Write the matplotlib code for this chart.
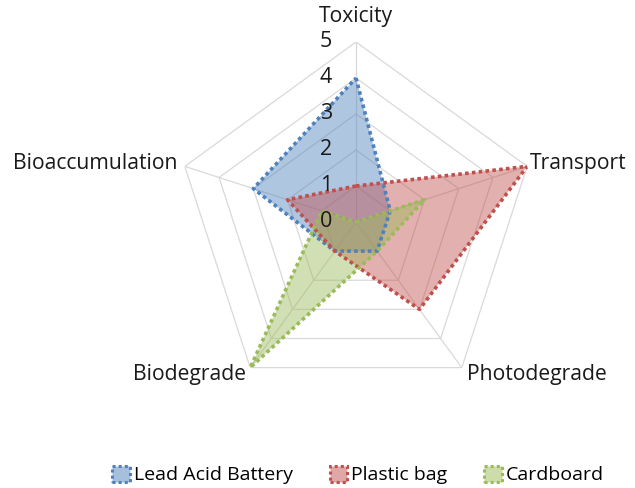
import numpy as np
import matplotlib
matplotlib.use("Agg")
import matplotlib.pyplot as plt
from matplotlib.patches import Patch

plt.rcParams['font.family'] = ['Open Sans', 'DejaVu Sans']

categories = ["Toxicity", "Transport", "Photodegrade", "Biodegrade", "Bioaccumulation"]
series_names = ["Lead Acid Battery", "Plastic bag", "Cardboard"]
lead_acid = [4, 1, 1, 1, 3]
plastic_bag = [1, 5, 3, 1, 2]
cardboard = [0, 2, 1, 5, 1]
tick_values = [0, 1, 2, 3, 4, 5]

colors = ["#4F81BD", "#C0504D", "#9BBB59"]
series = [lead_acid, plastic_bag, cardboard]

W, H = 635, 488
fig = plt.figure(figsize=(W / 100, H / 100), dpi=100)
cx, cy, R = 356, 222, 180
ax = fig.add_axes([(cx - R) / W, 1 - (cy + R) / H, 2 * R / W, 2 * R / H], projection='polar')
ax.set_theta_offset(np.pi / 2)
ax.set_theta_direction(-1)
ax.set_ylim(0, 5)
ax.axis('off')

n = len(categories)
angles = np.linspace(0, 2 * np.pi, n, endpoint=False)
closed = np.concatenate([angles, angles[:1]])

# grid
grid_c = "#D9D9D9"
for t in tick_values[1:]:
    ax.plot(closed, [t] * (n + 1), color=grid_c, lw=0.9, zorder=1)
for a in angles:
    ax.plot([a, a], [0, tick_values[-1]], color=grid_c, lw=0.9, zorder=1)

# series
for vals, c in zip(series, colors):
    v = list(vals) + [vals[0]]
    ax.fill(closed, v, color=c, alpha=0.45, zorder=2, lw=0)
    ax.plot(closed, v, color=c, lw=2.6, linestyle=(0, (1.0, 0.9)),
            dash_capstyle='butt', zorder=3)

txt_c = '#1a1a1a'
# radial tick labels
for t in tick_values:
    ax.annotate(str(t), xy=(0, t), xytext=(-30, 0), textcoords='offset pixels',
                ha='center', va='center', fontsize=15.5, color=txt_c, zorder=5)

# category labels
offsets = [(0, 25, 'center', 'center'), (3, 3, 'left', 'center'),
           (5, -7, 'left', 'center'), (-4, -7, 'right', 'center'),
           (-7, 3, 'right', 'center')]
for a, lab, (dx, dy, ha, va) in zip(angles, categories, offsets):
    ax.annotate(lab, xy=(a, 5), xytext=(dx, dy), textcoords='offset pixels',
                ha=ha, va=va, fontsize=15.2, color=txt_c, zorder=5)

handles = [Patch(facecolor=matplotlib.colors.to_rgba(c, 0.5), edgecolor=c,
                 linestyle=(0, (1, 1)), linewidth=2.2) for c in colors]
fig.legend(handles, series_names, loc='center', bbox_to_anchor=(358 / W, 1 - 475 / H),
           ncol=3, frameon=False, fontsize=14, handlelength=0.9, handleheight=0.9,
           handletextpad=0.2, columnspacing=1.9)

fig.savefig("out.png", dpi=100)
